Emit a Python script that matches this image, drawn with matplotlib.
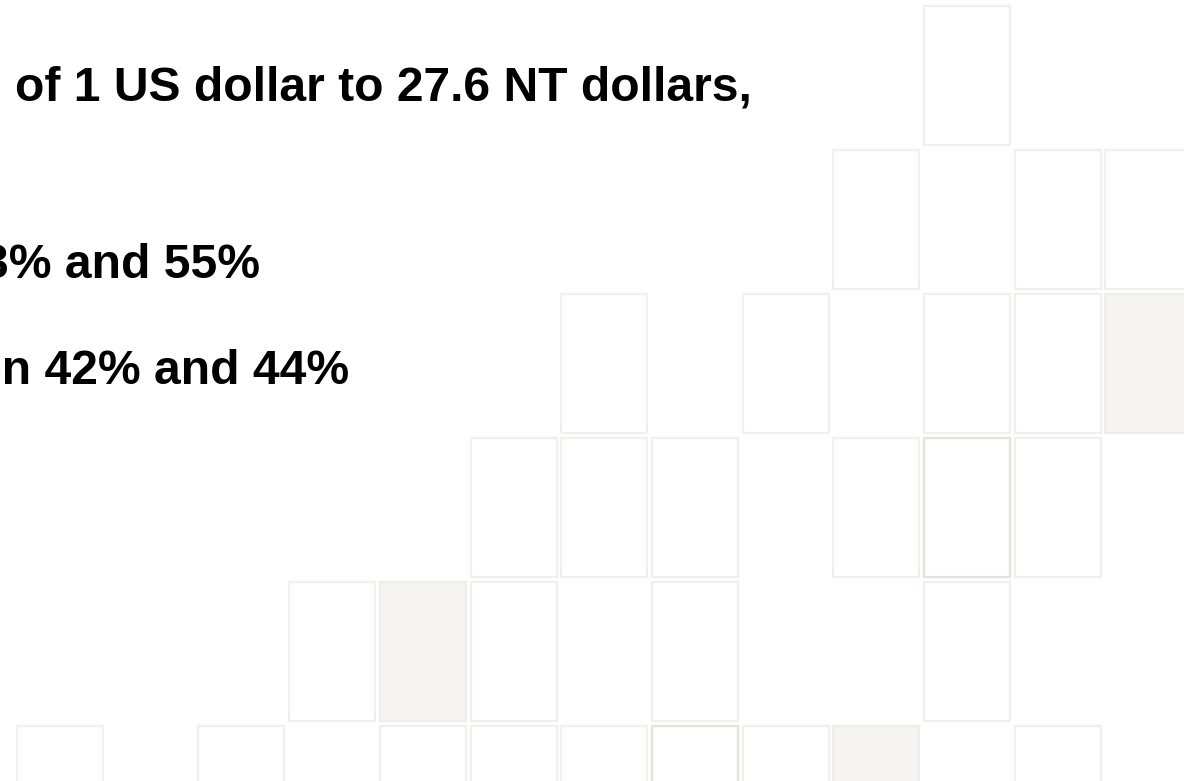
import matplotlib
matplotlib.use("Agg")
import matplotlib.pyplot as plt
from matplotlib.patches import Rectangle

# ---- data -------------------------------------------------------------
text_lines = ["of 1 US dollar to 27.6 NT dollars,", "3% and 55%", "en 42% and 44%"]

# background tiles: grid column / row index and tone
tile_cols = [10,
             9, 11, 12,
             6, 8, 10, 11, 12,
             5, 6, 7, 9, 10, 11,
             3, 4, 5, 7, 10,
             0, 2, 4, 5, 6, 7, 8, 9, 11]
tile_rows = [0,
             1, 1, 1,
             2, 2, 2, 2, 2,
             3, 3, 3, 3, 3, 3,
             4, 4, 4, 4, 4,
             5, 5, 5, 5, 5, 5, 5, 5, 5]
tile_tone = ["plain",
             "plain", "plain", "plain",
             "plain", "plain", "plain", "plain", "filled",
             "plain", "plain", "plain", "plain", "dark", "plain",
             "plain", "filled", "plain", "plain", "plain",
             "plain", "plain", "plain", "plain", "plain", "dark", "plain", "filled", "plain"]

# ---- figure -----------------------------------------------------------
W, H, DPI = 1184, 781, 100
fig = plt.figure(figsize=(W / DPI, H / DPI), dpi=DPI)
fig.patch.set_facecolor("white")

ax = fig.add_axes([0, 0, 1, 1])
ax.set_axis_off()
pitch_x, pitch_y = 90.7, 144.0
x0, y0 = 16.0, 5.0
ax.set_xlim(-x0 / pitch_x, (W - x0) / pitch_x)
ax.set_ylim((H - y0) / pitch_y, -y0 / pitch_y)

tw, th = 86.0 / pitch_x, 139.0 / pitch_y
ix, iy = 1.0 / pitch_x, 1.0 / pitch_y
styles = {
    "plain": dict(facecolor="white", edgecolor="#f2f0ef"),
    "filled": dict(facecolor="#f5f4f2", edgecolor="#efecea"),
    "dark": dict(facecolor="white", edgecolor="#e6e1de"),
}
for c, r, t in zip(tile_cols, tile_rows, tile_tone):
    ax.add_patch(Rectangle((c + ix, r + iy), tw, th, linewidth=1.6,
                           joinstyle="miter", **styles[t]))

font = dict(family=["Liberation Sans", "DejaVu Sans"], fontweight="bold",
            fontsize=34.6, color="black", va="baseline")
fig.text(15 / W, 1 - 100 / H, text_lines[0], ha="left", **font)
fig.text(260 / W, 1 - 278 / H, text_lines[1], ha="right", **font)
fig.text(349 / W, 1 - 384 / H, text_lines[2], ha="right", **font)

fig.savefig("out.png", dpi=DPI, facecolor="white")
